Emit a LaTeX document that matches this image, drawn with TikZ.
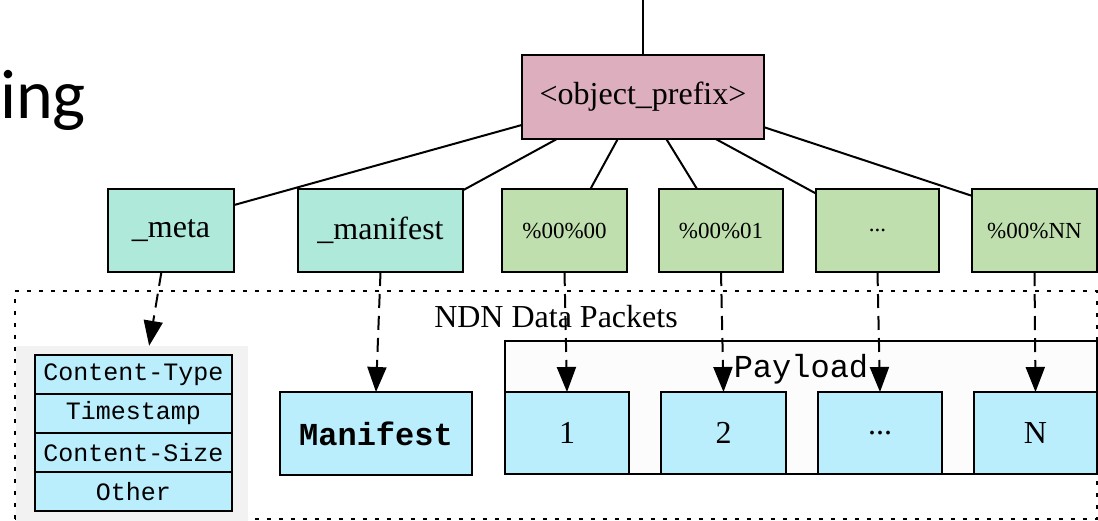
\documentclass[tikz,border=0pt]{standalone}
\usepackage{fontspec}
\setmainfont{Liberation Serif}
\newfontfamily\courierf{Liberation Mono}
\newfontfamily\slidef{Carlito}
\usetikzlibrary{arrows.meta}

\definecolor{prefixpink}{HTML}{DDAEBE}
\definecolor{compmint}{HTML}{AEE9DA}
\definecolor{seggreen}{HTML}{C0DFAE}
\definecolor{pktblue}{HTML}{BBEEFD}
\definecolor{panelgray}{HTML}{F2F2F2}
\definecolor{payloadbg}{HTML}{FCFCFC}

\newcommand{\sizeL}{\fontsize{32}{36}\selectfont}
\newcommand{\sizeM}{\fontsize{25}{30}\selectfont}
\newcommand{\sizeS}{\fontsize{23}{28}\selectfont}

\begin{document}
\begin{tikzpicture}[x=1pt,y=-1pt,
  box/.style={draw=black, line width=2.2pt, inner sep=0pt, outer sep=0pt},
  prefixbox/.style={box, fill=prefixpink, minimum width=242pt, minimum height=84pt, font=\sizeL},
  compbox/.style={box, fill=compmint, minimum height=83pt, font=\sizeL},
  segbox/.style={box, fill=seggreen, minimum height=83pt, font=\sizeS},
  fieldrow/.style={box, fill=pktblue, minimum width=197pt, minimum height=39pt, font=\courierf\sizeM},
  pktbox/.style={box, fill=pktblue, minimum height=82pt, font=\sizeL},
  edge/.style={line width=2pt},
  darrow/.style={line width=2pt, dash pattern=on 14pt off 8pt, -{Triangle[length=25pt,width=19pt]}},
  cluster/.style={draw=black, line width=2pt, dash pattern=on 4pt off 8pt, inner sep=0pt}
]
\useasboundingbox (0,0) rectangle (1098,520);

% slide title fragment
\node[anchor=base east, inner sep=0pt, font=\slidef\fontsize{70}{80}\selectfont] (title) at (86,118) {ing};

% name tree
\coordinate (top) at (643,0);
\node[prefixbox] (obj) at (643,97) {<object\_prefix>};
\node[compbox, minimum width=126pt] (meta) at (171,230.5) {\_meta};
\node[compbox, minimum width=165pt] (manif) at (380.5,230.5) {\_manifest};
\node[segbox, minimum width=125pt] (s0) at (564.5,230.5) {\%00\%00};
\node[segbox, minimum width=124pt] (s1) at (721,230.5) {\%00\%01};
\node[segbox, minimum width=123pt] (sdots) at (877.5,230.5) {...};
\node[segbox, minimum width=125pt] (sN) at (1034.5,230.5) {\%00\%NN};

% data packets cluster
\node[cluster, minimum width=1082pt, minimum height=228pt] (pk) at (556,405) {};
\node[anchor=base, inner sep=0pt, font=\sizeL] (pklabel) at (556,327) {NDN Data Packets};

% meta info fields
\node[fill=panelgray, inner sep=0pt, minimum width=232pt, minimum height=176pt] (panel) at (132,434) {};
\node[fieldrow] (r1) at (133.5,374.5) {Content-Type};
\node[fieldrow] (r2) at (133.5,413.5) {Timestamp};
\node[fieldrow] (r3) at (133.5,452.5) {Content-Size};
\node[fieldrow] (r4) at (133.5,491.5) {Other};

% manifest packet
\node[pktbox, minimum width=192pt, minimum height=83pt, font=\courierf\bfseries\sizeL] (mbox) at (376,433.5) {Manifest};

% payload packets
\node[box, line width=2pt, fill=payloadbg, minimum width=592pt, minimum height=133pt] (payload) at (801,407.5) {};
\node[anchor=base, inner sep=0pt, font=\courierf\sizeL] (paylabel) at (801,377) {Payload};
\node[pktbox, minimum width=124pt] (c1) at (567,433) {1};
\node[pktbox, minimum width=125pt] (c2) at (723.5,433) {2};
\node[pktbox, minimum width=124pt] (c3) at (880,433) {...};
\node[pktbox, minimum width=123pt] (c4) at (1035.5,433) {N};

% tree edges
\draw[edge] (top) -- (obj.north);
\draw[edge] (obj.193) -- (meta.22);
\draw[edge] (obj.206.8) -- (manif.26.7);
\draw[edge] (obj.239.2) -- (s0.58.4);
\draw[edge] (obj.299.7) -- (s1.120);
\draw[edge] (obj.330.4) -- (sdots.149.7);
\draw[edge] (obj.346) -- (sN.151);

% name components to packets
\draw[darrow] (meta.257.8) -- (panel.79.7);
\draw[darrow] (manif.south) -- (mbox.north);
\draw[darrow] (s0.south) -- (c1.north);
\draw[darrow] (s1.south) -- (c2.north);
\draw[darrow] (sdots.south) -- (c3.north);
\draw[darrow] (sN.south) -- (c4.north);
\end{tikzpicture}
\end{document}
